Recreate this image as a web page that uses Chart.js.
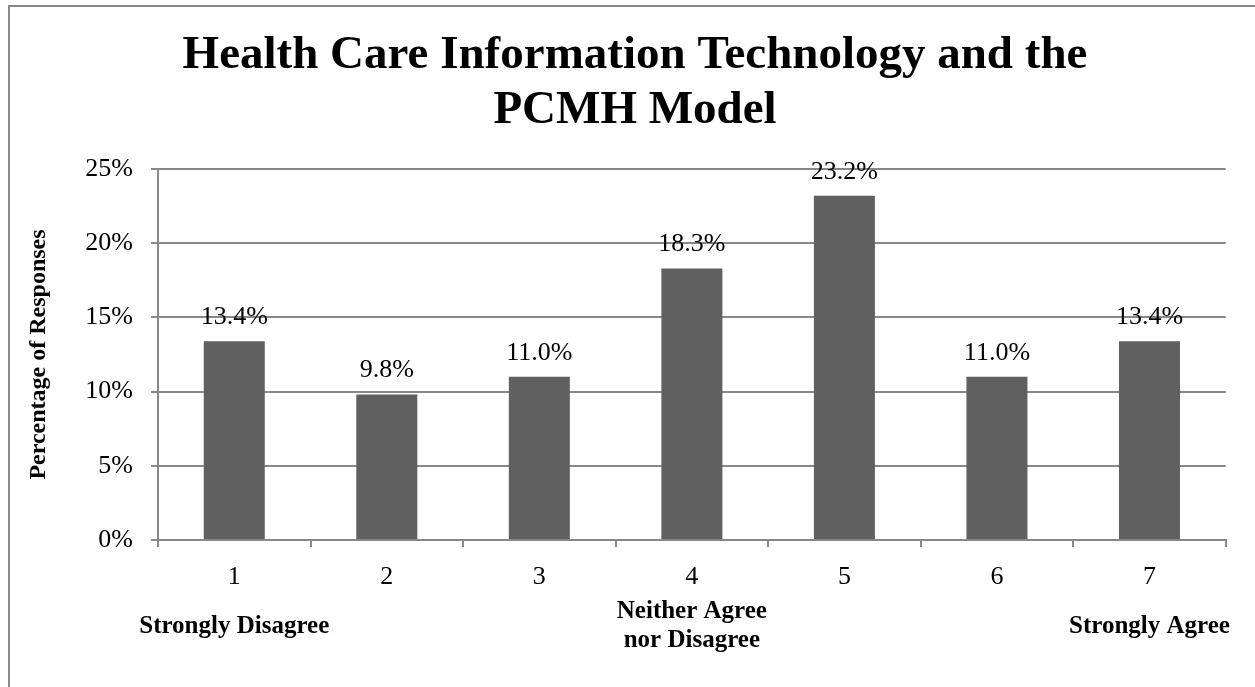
<!DOCTYPE html>
<html>
<head>
<meta charset="utf-8">
<script src="https://cdn.jsdelivr.net/npm/chart.js@4.4.1/dist/chart.umd.min.js"></script>
<style>
  html, body { margin: 0; padding: 0; background: #fff; }
  #frame {
    position: absolute; left: 8px; top: 5px;
    width: 1247px; height: 682px;
    border-left: 2px solid #888; border-top: 2px solid #888;
  }
  #chart { display: block; }
</style>
</head>
<body>
<div id="frame"><canvas id="chart" width="1245" height="680"></canvas></div>
<script>
// Survey responses on a 1-7 scale
const categories = ['1', '2', '3', '4', '5', '6', '7'];
const anchorLabels = ['Strongly Disagree', '', '', ['Neither Agree', 'nor Disagree'], '', '', 'Strongly Agree'];
const percentages = [13.4, 9.8, 11.0, 18.3, 23.2, 11.0, 13.4];
const yTicks = [0, 5, 10, 15, 20, 25];

const serif = '"Liberation Serif", "Times New Roman", serif';
const gridColor = '#888888';

// value labels above each bar
const barValueLabels = {
  id: 'barValueLabels',
  afterDatasetsDraw(chart) {
    const ctx = chart.ctx;
    const meta = chart.getDatasetMeta(0);
    ctx.save();
    ctx.font = '26px ' + serif;
    ctx.fillStyle = '#000';
    ctx.textAlign = 'center';
    ctx.textBaseline = 'middle';
    meta.data.forEach((bar, i) => {
      ctx.fillText(percentages[i].toFixed(1) + '%', bar.x, bar.y - 24);
    });
    ctx.restore();
  },
};

const ctx = document.getElementById('chart').getContext('2d');
new Chart(ctx, {
  type: 'bar',
  data: {
    labels: categories,
    datasets: [{
      data: percentages,
      backgroundColor: '#606060',
      borderWidth: 0,
      categoryPercentage: 0.4,
      barPercentage: 1.0,
    }],
  },
  options: {
    responsive: false,
    animation: false,
    layout: { padding: { top: 0, right: 28, bottom: 18, left: 33 } },
    plugins: {
      legend: { display: false },
      tooltip: { enabled: false },
      title: {
        display: true,
        text: ['Health Care Information Technology and the', 'PCMH Model'],
        color: '#000',
        font: { family: serif, size: 47, weight: 'bold', lineHeight: 1.17 },
        padding: { top: 21, bottom: 31 },
      },
    },
    scales: {
      y: {
        min: 0,
        max: 25,
        afterBuildTicks(scale) {
          scale.ticks = yTicks.map(v => ({ value: v }));
        },
        afterFit(scale) { scale.width = 115; },
        grid: { color: gridColor, lineWidth: 2, tickLength: 7, drawTicks: true },
        border: { color: gridColor, width: 2 },
        ticks: {
          color: '#000',
          padding: 18,
          font: { family: serif, size: 26 },
          callback: v => v + '%',
        },
        title: {
          display: true,
          text: 'Percentage of Responses',
          color: '#000',
          font: { family: serif, size: 24, weight: 'bold', lineHeight: 1.2 },
          padding: { top: -19, bottom: 0 },
        },
      },
      x: {
        afterFit(scale) { scale.height = 49; },
        grid: { display: true, drawOnChartArea: false, offset: true, color: gridColor, lineWidth: 2, tickLength: 7 },
        border: { color: gridColor, width: 2 },
        ticks: { color: '#000', padding: 15, font: { family: serif, size: 26 } },
      },
      x2: {
        type: 'category',
        position: 'bottom',
        labels: anchorLabels,
        offset: true,
        afterFit(scale) { scale.height = 80; },
        grid: { display: false, drawTicks: false, tickLength: 0 },
        border: { display: false },
        ticks: {
          color: '#000',
          padding: 23,
          crossAlign: 'center',
          autoSkip: false,
          maxRotation: 0,
          font: { family: serif, size: 25, weight: 'bold', lineHeight: 1.16 },
        },
      },
    },
  },
  plugins: [barValueLabels],
});
</script>
</body>
</html>
